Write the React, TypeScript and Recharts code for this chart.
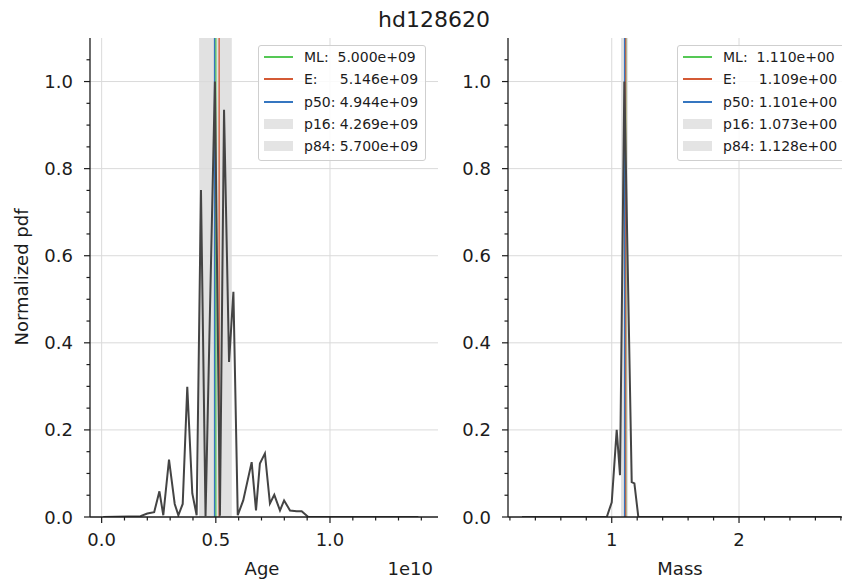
import React from "react";
import { LineChart, Line, XAxis, YAxis, ReferenceLine, ReferenceArea } from "recharts";

// age axis is in units of 1e10 yr (matches the offset text)
const ageGrid = [0.007, 0.17, 0.2, 0.23, 0.253, 0.27, 0.295, 0.32, 0.336, 0.355, 0.375, 0.397, 0.416, 0.435, 0.455, 0.496, 0.518, 0.536, 0.558, 0.577, 0.596, 0.62, 0.657, 0.676, 0.693, 0.715, 0.737, 0.756, 0.781, 0.799, 0.825, 0.854, 0.876, 0.905, 1.387];
const agePdf = [0, 0.002, 0.008, 0.011, 0.059, 0.004, 0.132, 0.03, 0.004, 0.03, 0.299, 0.054, 0.004, 0.751, 0.002, 1.0, 0.003, 0.935, 0.356, 0.517, 0.004, 0.038, 0.126, 0.015, 0.123, 0.146, 0.031, 0.051, 0.015, 0.038, 0.015, 0.013, 0.013, 0, 0];

const massGrid = [0.295, 0.961, 1.0, 1.039, 1.065, 1.099, 1.157, 1.178, 1.209, 2.8];
const massPdf = [0, 0, 0.034, 0.2, 0.096, 1.0, 0.08, 0.077, 0, 0];

// ML, E, p50, p16, p84
const statNames = ["ML:  ", "E:     ", "p50: ", "p16: ", "p84: "];
const ageStats = [5.0e9, 5.146e9, 4.944e9, 4.269e9, 5.7e9];
const massStats = [1.11, 1.109, 1.101, 1.073, 1.128];
const statColors = ["#55c855", "#d45a35", "#3576c0"];

const yMajor = [0, 0.2, 0.4, 0.6, 0.8, 1.0];
const yMinor = [0.05, 0.1, 0.15, 0.25, 0.3, 0.35, 0.45, 0.5, 0.55, 0.65, 0.7, 0.75, 0.85, 0.9, 0.95, 1.05];
const ageMajor = [0, 0.5, 1.0];
const ageMinor = [0.1, 0.2, 0.3, 0.4, 0.6, 0.7, 0.8, 0.9, 1.1, 1.2, 1.3, 1.4];
const massMajor = [1, 2];
const massMinor = [0.2, 0.4, 0.6, 0.8, 1.2, 1.4, 1.6, 1.8, 2.2, 2.4, 2.6, 2.8];

const FONT = "DejaVu Sans";
const INK = "#1c1c1c";
const GRID = "#dadada";
const BAND = "#c4c4c4";
const CURVE = "#444444";

const fmtExp = (v: number) => {
  const [m, e] = v.toExponential(3).split("e");
  const sign = e[0] === "-" ? "-" : "+";
  const digits = e.replace(/[+-]/, "").padStart(2, "0");
  return `${m}e${sign}${digits}`;
};

const makeYTick = (majors: number[]) => (props: any) => {
  const { x, y, payload } = props;
  const major = majors.includes(payload.value);
  return (
    <g>
      <line x1={x - (major ? 6 : 3.5)} x2={x} y1={y} y2={y} stroke={INK} strokeWidth={1.2} />
      {major && (
        <text x={x - 17} y={y} dy={6.5} textAnchor="end" fontFamily={FONT} fontSize={18} fill={INK}>
          {payload.value.toFixed(1)}
        </text>
      )}
    </g>
  );
};

const makeXTick = (majors: number[], fmt: (v: number) => string) => (props: any) => {
  const { x, y, payload } = props;
  const major = majors.includes(payload.value);
  return (
    <g>
      <line x1={x} x2={x} y1={y} y2={y + (major ? 6 : 3.5)} stroke={INK} strokeWidth={1.2} />
      {major && (
        <text x={x} y={y + 29} textAnchor="middle" fontFamily={FONT} fontSize={18} fill={INK}>
          {fmt(payload.value)}
        </text>
      )}
    </g>
  );
};

function StatLegend({ left, values }: { left: number; values: number[] }) {
  return (
    <div
      style={{
        position: "absolute",
        left,
        top: 45,
        width: 166,
        height: 114,
        border: "1px solid #cfcfcf",
        borderRadius: 3,
        background: "rgba(255,255,255,0.85)",
        fontFamily: FONT,
        fontSize: 14,
        color: INK,
      }}
    >
      {statNames.map((name, i) => (
        <div key={name} style={{ position: "absolute", left: 0, top: Math.round(i * 22.3), height: 22, width: "100%" }}>
          {i < 3 ? (
            <div style={{ position: "absolute", left: 5, top: 10, width: 29, height: 2, background: statColors[i] }} />
          ) : (
            <div style={{ position: "absolute", left: 5, top: 6, width: 29, height: 10, background: "#e4e4e4" }} />
          )}
          <div style={{ position: "absolute", left: 45, top: 2, whiteSpace: "pre", lineHeight: "18px" }}>
            {name + fmtExp(values[i])}
          </div>
        </div>
      ))}
    </div>
  );
}

function Panel(props: {
  rows: { x: number; pdf: number }[];
  domain: [number, number];
  majors: number[];
  minors: number[];
  stats: number[];
  fmt: (v: number) => string;
  width: number;
  axisWidth: number;
  rightGap: number;
}) {
  const { rows, domain, majors, minors, stats, fmt, width, axisWidth, rightGap } = props;
  const xTicks = [...majors, ...minors].sort((a, b) => a - b);
  const yTicks = [...yMajor, ...yMinor].sort((a, b) => a - b);
  return (
    <LineChart width={width} height={583} data={rows} margin={{ top: 38, right: rightGap, bottom: 0, left: 0 }}>
      <XAxis
        dataKey="x"
        type="number"
        domain={domain}
        allowDataOverflow
        ticks={xTicks}
        interval={0}
        height={66}
        tickSize={0}
        tickMargin={0}
        tickLine={false}
        axisLine={{ stroke: INK, strokeWidth: 1.3 }}
        tick={makeXTick(majors, fmt)}
      />
      <XAxis
        xAxisId="top"
        orientation="top"
        type="number"
        domain={domain}
        allowDataOverflow
        ticks={[]}
        tick={false}
        tickLine={false}
        height={0}
        axisLine={{ stroke: INK, strokeWidth: 1.3 }}
      />
      <YAxis
        type="number"
        domain={[0, 1.1]}
        allowDataOverflow
        ticks={yTicks}
        interval={0}
        width={axisWidth}
        tickSize={0}
        tickMargin={0}
        tickLine={false}
        axisLine={{ stroke: INK, strokeWidth: 1.3 }}
        tick={makeYTick(yMajor)}
      />
      <YAxis
        yAxisId="right"
        orientation="right"
        type="number"
        domain={[0, 1.1]}
        ticks={[]}
        tick={false}
        tickLine={false}
        width={0}
        axisLine={{ stroke: INK, strokeWidth: 1.3 }}
      />
      {yMajor.slice(1).map((v) => (
        <ReferenceLine key={`gy${v}`} y={v} stroke={GRID} strokeWidth={1} />
      ))}
      {majors.map((v) => (
        <ReferenceLine key={`gx${v}`} x={v} stroke={GRID} strokeWidth={1} />
      ))}
      <ReferenceArea x1={stats[3]} x2={stats[4]} fill={BAND} fillOpacity={0.5} stroke="none" />
      {stats.slice(0, 3).map((v, i) => (
        <ReferenceLine key={`s${i}`} x={v} stroke={statColors[i]} strokeWidth={1.3} />
      ))}
      <Line
        type="linear"
        dataKey="pdf"
        stroke={CURVE}
        strokeWidth={2}
        dot={false}
        activeDot={false}
        isAnimationActive={false}
      />
    </LineChart>
  );
}

export default function App() {
  const ageRows = ageGrid.map((x, i) => ({ x, pdf: agePdf[i] }));
  const massRows = massGrid.map((x, i) => ({ x, pdf: massPdf[i] }));
  const ageScaled = ageStats.map((v) => v / 1e10);
  return (
    <div style={{ position: "absolute", left: 0, top: 0, width: 842, height: 583, overflow: "hidden", background: "#fff" }}>
      <div style={{ position: "absolute", left: 0, top: 0 }}>
        <Panel
          rows={ageRows}
          domain={[-0.051, 1.473]}
          majors={ageMajor}
          minors={ageMinor}
          stats={ageScaled}
          fmt={(v) => v.toFixed(1)}
          width={445}
          axisWidth={90}
          rightGap={7}
        />
      </div>
      <div style={{ position: "absolute", left: 445, top: 0 }}>
        <Panel
          rows={massRows}
          domain={[0.185, 2.919]}
          majors={massMajor}
          minors={massMinor}
          stats={massStats}
          fmt={(v) => String(v)}
          width={423}
          axisWidth={63}
          rightGap={12}
        />
      </div>
      <StatLegend left={258} values={ageStats} />
      <StatLegend left={677} values={massStats} />
      <svg width={842} height={583} style={{ position: "absolute", left: 0, top: 0, pointerEvents: "none" }}>
        <text x={434} y={27} textAnchor="middle" fontFamily={FONT} fontSize={22} fill={INK}>
          hd128620
        </text>
        <text x={28} y={277} transform="rotate(-90 28 277)" textAnchor="middle" fontFamily={FONT} fontSize={18} fill={INK}>
          Normalized pdf
        </text>
        <text x={262} y={575} textAnchor="middle" fontFamily={FONT} fontSize={18} fill={INK}>
          Age
        </text>
        <text x={433} y={575} textAnchor="end" fontFamily={FONT} fontSize={18} fill={INK}>
          1e10
        </text>
        <text x={680} y={575} textAnchor="middle" fontFamily={FONT} fontSize={18} fill={INK}>
          Mass
        </text>
      </svg>
    </div>
  );
}
